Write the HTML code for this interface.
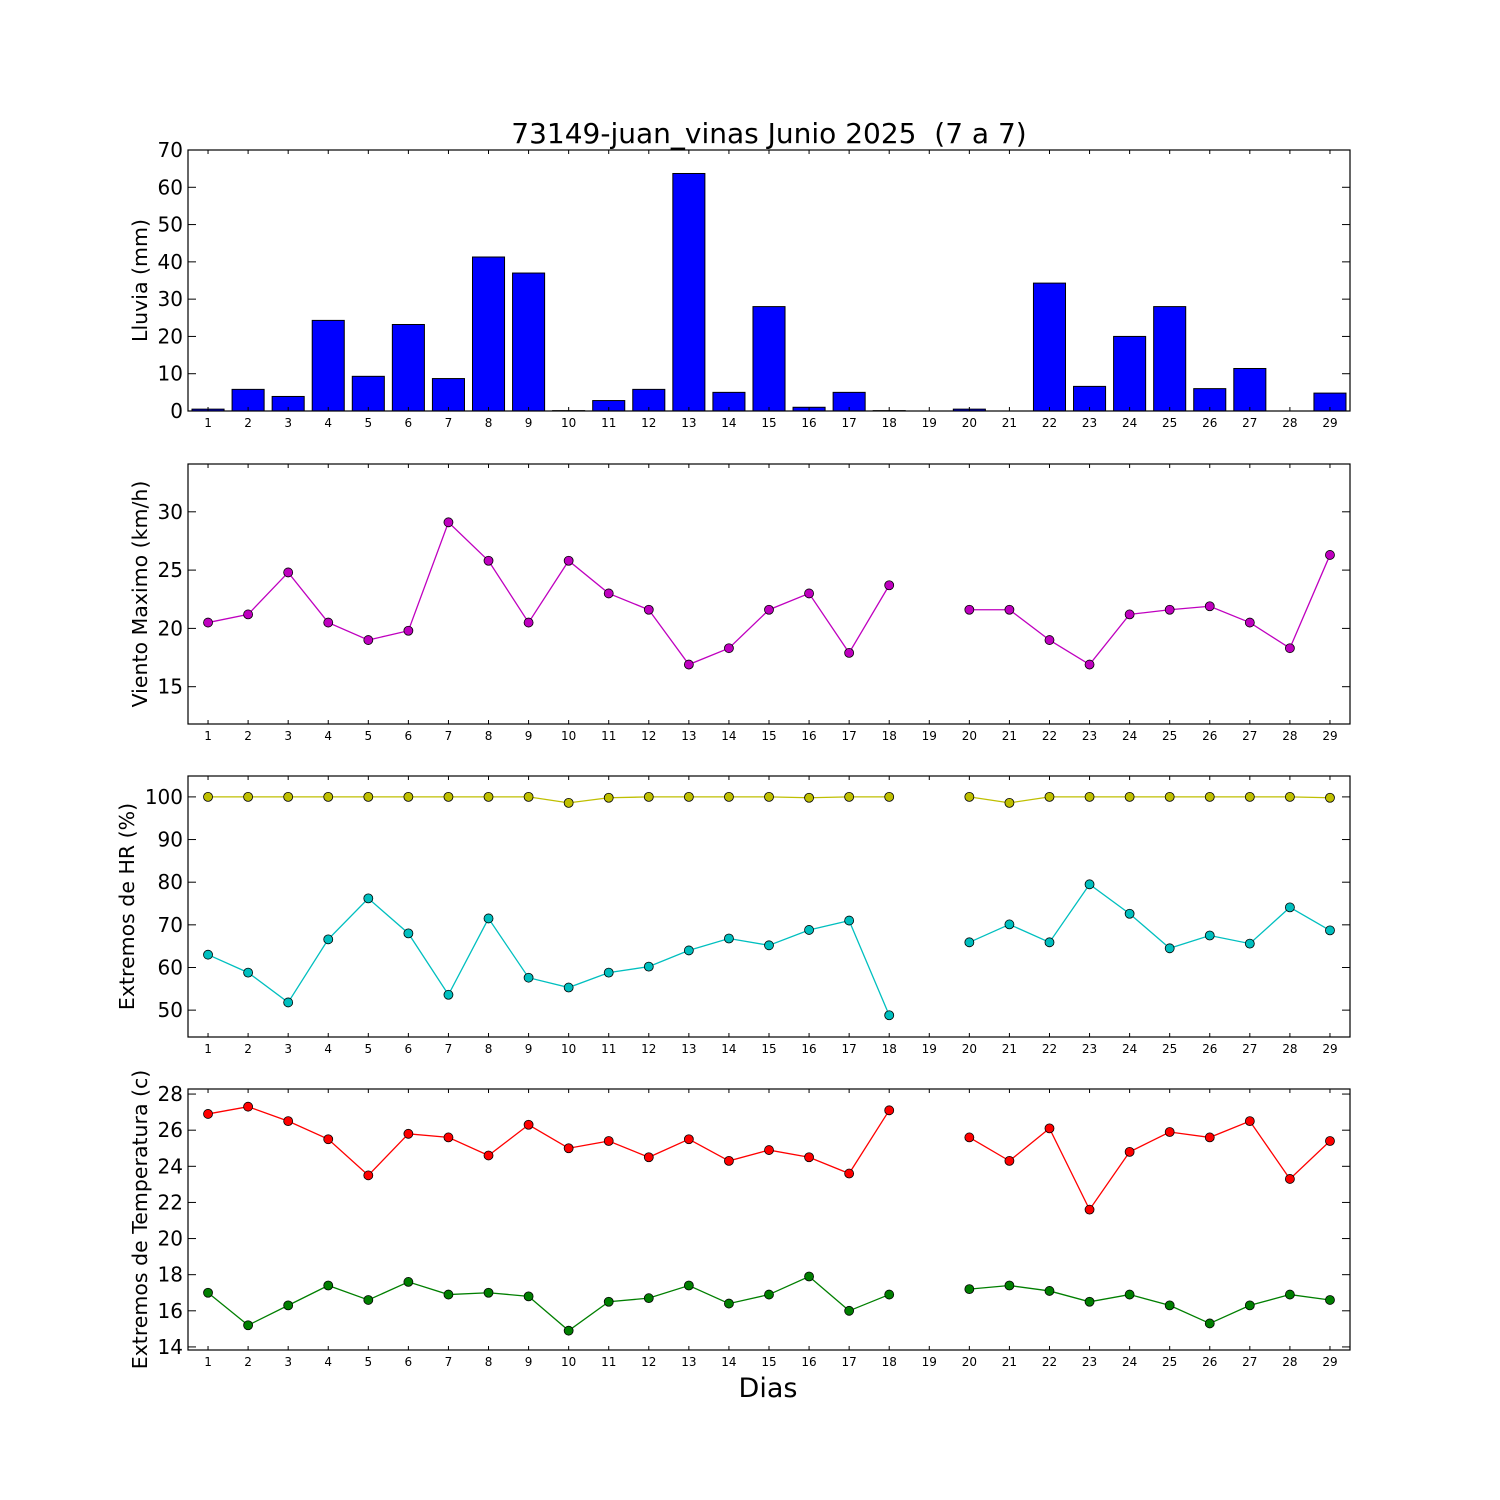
<!DOCTYPE html>
<html><head><meta charset="utf-8"><style>
html,body{margin:0;padding:0;background:#fff}
svg{display:block;font-family:"DejaVu Sans","Liberation Sans",sans-serif}
text{white-space:pre}
</style></head><body>
<svg id="chart" width="1500" height="1500" xmlns="http://www.w3.org/2000/svg">
<rect width="1500" height="1500" fill="#fff"/>
<text x="769" y="143" font-size="28" text-anchor="middle">73149-juan_vinas Junio 2025  (7 a 7)</text>
<text x="768" y="1397" font-size="27" text-anchor="middle">Dias</text>
</svg>
<script>
const days = [1,2,3,4,5,6,7,8,9,10,11,12,13,14,15,16,17,18,19,20,21,22,23,24,25,26,27,28,29];
const rain = [0.5,5.8,3.9,24.3,9.3,23.2,8.7,41.3,37,0.1,2.8,5.8,63.7,5,28,1,5,0.1,0,0.5,0,34.3,6.6,20,28,6,11.4,0,4.8];
const wind = [20.5,21.2,24.8,20.5,19,19.8,29.1,25.8,20.5,25.8,23,21.6,16.9,18.3,21.6,23,17.9,23.7,null,21.6,21.6,19,16.9,21.2,21.6,21.9,20.5,18.3,26.3];
const hrMax = [100,100,100,100,100,100,100,100,100,98.6,99.8,100,100,100,100,99.8,100,100,null,100,98.6,100,100,100,100,100,100,100,99.8];
const hrMin = [63,58.8,51.8,66.6,76.2,68,53.6,71.5,57.6,55.3,58.8,60.2,64,66.8,65.2,68.8,71,48.8,null,65.9,70.1,65.9,79.5,72.6,64.5,67.5,65.6,74.1,68.7];
const tMax = [26.9,27.3,26.5,25.5,23.5,25.8,25.6,24.6,26.3,25,25.4,24.5,25.5,24.3,24.9,24.5,23.6,27.1,null,25.6,24.3,26.1,21.6,24.8,25.9,25.6,26.5,23.3,25.4];
const tMin = [17,15.2,16.3,17.4,16.6,17.6,16.9,17,16.8,14.9,16.5,16.7,17.4,16.4,16.9,17.9,16,16.9,null,17.2,17.4,17.1,16.5,16.9,16.3,15.3,16.3,16.9,16.6];
const rainTicks = [0,10,20,30,40,50,60,70];
const windTicks = [15,20,25,30];
const hrTicks = [50,60,70,80,90,100];
const tTicks = [14,16,18,20,22,24,26,28];

const NS="http://www.w3.org/2000/svg";
const svg=document.getElementById('chart');
const L=188,R=1350;
function x(d){return L+(d-0.5)*(R-L)/29;}
function mk(tag,attrs,parent){const e=document.createElementNS(NS,tag);for(const k in attrs)e.setAttribute(k,attrs[k]);(parent||svg).appendChild(e);return e;}

const panels=[
 {name:'rain',top:150,bot:411,ymin:0,ymax:70,ticks:rainTicks,label:'Lluvia (mm)',lx:147},
 {name:'wind',top:464,bot:724,ymin:11.8,ymax:34.1,ticks:windTicks,label:'Viento Maximo (km/h)',lx:147},
 {name:'humidity',top:776,bot:1037,ymin:43.7,ymax:104.9,ticks:hrTicks,label:'Extremos de HR (%)',lx:134},
 {name:'temperature',top:1089,bot:1350,ymin:13.83,ymax:28.28,ticks:tTicks,label:'Extremos de Temperatura (c)',lx:147}
];
panels.forEach(p=>{p.y=v=>p.bot-(v-p.ymin)/(p.ymax-p.ymin)*(p.bot-p.top);});

function drawLine(p,vals,color,name){
  const g=mk('g',{});
  
  
  let seg=[];
  const flush=()=>{if(seg.length>1){const pl=mk('polyline',{points:seg.join(' '),fill:'none',stroke:color,'stroke-width':1.3},g);}seg=[];};
  vals.forEach((v,i)=>{if(v==null){flush();return;}seg.push(x(days[i])+','+p.y(v));});
  flush();
  vals.forEach((v,i)=>{if(v==null)return;const c=mk('circle',{cx:x(days[i]),cy:p.y(v),r:4.5,fill:color,stroke:'#000','stroke-width':0.8},g);
    
    });
}

panels.forEach(p=>{
  const g=mk('g',{});
  
  
  if(p.name==='rain'){
    rain.forEach((v,i)=>{const bw=(R-L)/29*0.8;const r=mk('rect',{x:x(days[i])-bw/2,y:p.y(v),width:bw,height:p.bot-p.y(v),fill:'#0000ff',stroke:'#000','stroke-width':1},g);
      
      });
  }
  if(p.name==='wind') drawLine(p,wind,'#bf00bf','wind');
  if(p.name==='humidity'){drawLine(p,hrMax,'#bfbf00','hr-max');drawLine(p,hrMin,'#00bfbf','hr-min');}
  if(p.name==='temperature'){drawLine(p,tMax,'#ff0000','temp-max');drawLine(p,tMin,'#007f00','temp-min');}
  const fr=mk('rect',{x:L,y:p.top,width:R-L,height:p.bot-p.top,fill:'none',stroke:'#000','stroke-width':1.2},g);
  
  
  p.ticks.forEach(t=>{const yy=p.y(t);
    mk('line',{x1:L,x2:L+8,y1:yy,y2:yy,stroke:'#000'},g);mk('line',{x1:R,x2:R-8,y1:yy,y2:yy,stroke:'#000'},g);
    const tx=mk('text',{x:L-5,y:yy+7,'font-size':20,'text-anchor':'end'},g);tx.textContent=t;
    
    });
  days.forEach(d=>{const xx=x(d);
    mk('line',{x1:xx,x2:xx,y1:p.bot,y2:p.bot-4,stroke:'#000'},g);mk('line',{x1:xx,x2:xx,y1:p.top,y2:p.top+4,stroke:'#000'},g);
    const tx=mk('text',{x:xx,y:p.bot+16,'font-size':12,'text-anchor':'middle'},g);tx.textContent=d;
    
    });
  const cy=(p.top+p.bot)/2;
  const lb=mk('text',{x:0,y:0,'font-size':20.5,'text-anchor':'middle',transform:'translate('+p.lx+','+cy+') rotate(-90)'},g);
  lb.textContent=p.label;
  
  
});
</script>
</body></html>
